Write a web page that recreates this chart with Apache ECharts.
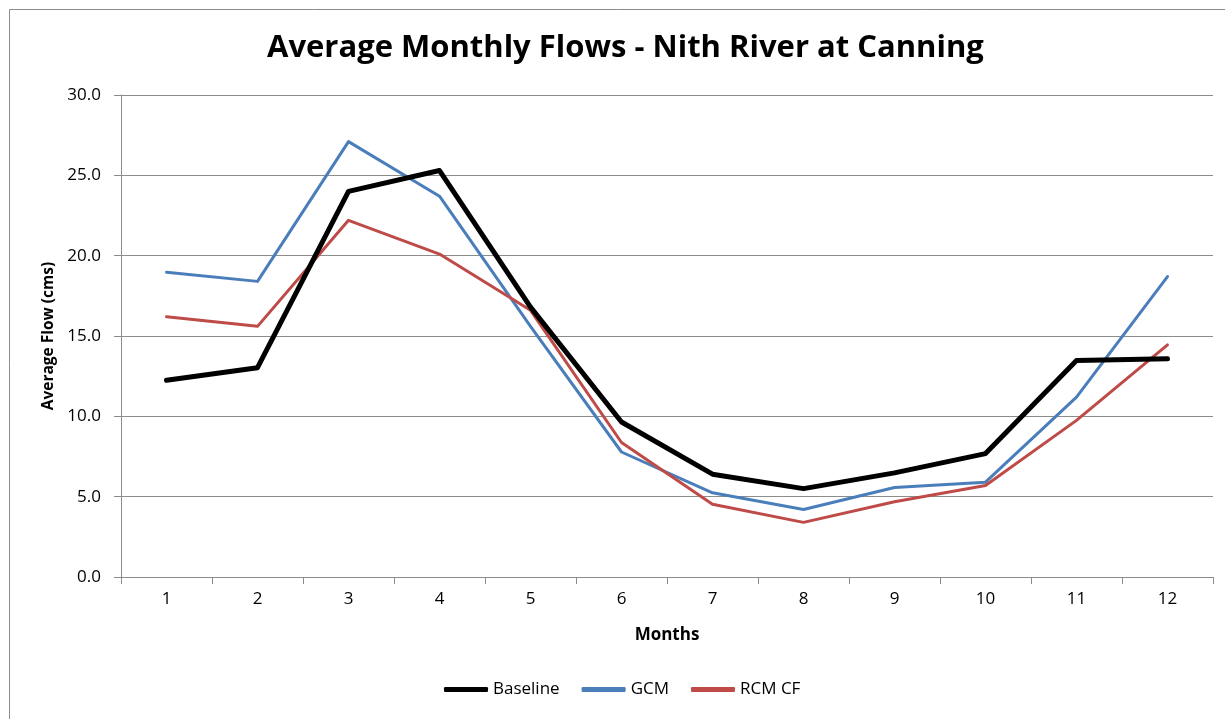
<!DOCTYPE html>
<html>
<head>
<meta charset="utf-8">
<script src="https://cdn.jsdelivr.net/npm/echarts@6/dist/echarts.min.js"></script>
<style>
html,body{margin:0;padding:0;background:#fff;}
#c{width:1225px;height:719px;}
</style>
</head>
<body>
<div id="c"></div>
<script>
const months = ['1','2','3','4','5','6','7','8','9','10','11','12'];
const baseline = [12.24, 13.03, 24.0, 25.3, 16.8, 9.65, 6.4, 5.5, 6.48, 7.68, 13.48, 13.58];
const gcm = [18.97, 18.4, 27.1, 23.7, 15.6, 7.78, 5.24, 4.2, 5.57, 5.9, 11.2, 18.7];
const rcmcf = [16.2, 15.6, 22.2, 20.1, 16.6, 8.37, 4.53, 3.4, 4.68, 5.7, 9.75, 14.45];

const font = '"Open Sans", "Liberation Sans", sans-serif';
const chart = echarts.init(document.getElementById('c'), null, {renderer: 'canvas'});
chart.setOption({
  animation: false,
  backgroundColor: '#fff',
  textStyle: {fontFamily: font},
  graphic: [{
    type: 'rect', left: 7, top: 7, silent: true,
    shape: {width: 1240, height: 740},
    style: {fill: 'none', stroke: '#8c8c8c', lineWidth: 1}
  }],
  title: {
    text: 'Average Monthly Flows - Nith River at Canning',
    left: 262, top: 28,
    textStyle: {fontFamily: font, fontSize: 31, fontWeight: 'bold', color: '#000'}
  },
  grid: {left: 121, right: 12, top: 95, bottom: 142, containLabel: false},
  legend: {
    bottom: 16, left: 439,
    icon: 'roundRect',
    itemWidth: 44, itemHeight: 5, itemGap: 22,
    textStyle: {fontFamily: font, fontSize: 17, color: '#000'},
    data: ['Baseline', 'GCM', 'RCM CF']
  },
  xAxis: {
    type: 'category', data: months, boundaryGap: true,
    name: 'Months', nameLocation: 'middle', nameGap: 50,
    nameTextStyle: {fontFamily: font, fontSize: 17, fontWeight: 'bold', color: '#000'},
    axisLine: {lineStyle: {color: '#8c8c8c', width: 1}},
    axisTick: {show: true, length: 7, lineStyle: {color: '#8c8c8c'}},
    axisLabel: {fontSize: 17, color: '#000', margin: 14}
  },
  yAxis: {
    type: 'value', min: 0, max: 30, interval: 5,
    name: 'Average Flow (cms)', nameLocation: 'middle', nameGap: 64, nameRotate: 90,
    nameTextStyle: {fontFamily: font, fontSize: 15.5, fontWeight: 'bold', color: '#000'},
    axisLine: {show: true, lineStyle: {color: '#8c8c8c', width: 1}},
    axisTick: {show: true, length: 7, lineStyle: {color: '#8c8c8c'}},
    axisLabel: {fontSize: 17, color: '#000', margin: 20, formatter: v => v.toFixed(1)},
    splitLine: {lineStyle: {color: '#8c8c8c', width: 1}}
  },
  series: [
    {name: 'Baseline', type: 'line', data: baseline, symbol: 'none',
     lineStyle: {color: '#000000', width: 5, cap: 'round', join: 'round'}, itemStyle: {color: '#000000'}, z: 3},
    {name: 'GCM', type: 'line', data: gcm, symbol: 'none',
     lineStyle: {color: '#4a7ebb', width: 3, cap: 'round', join: 'round'}, itemStyle: {color: '#4a7ebb'}, z: 2},
    {name: 'RCM CF', type: 'line', data: rcmcf, symbol: 'none',
     lineStyle: {color: '#be4b48', width: 3, cap: 'round', join: 'round'}, itemStyle: {color: '#be4b48'}, z: 2}
  ]
});
</script>
</body>
</html>
